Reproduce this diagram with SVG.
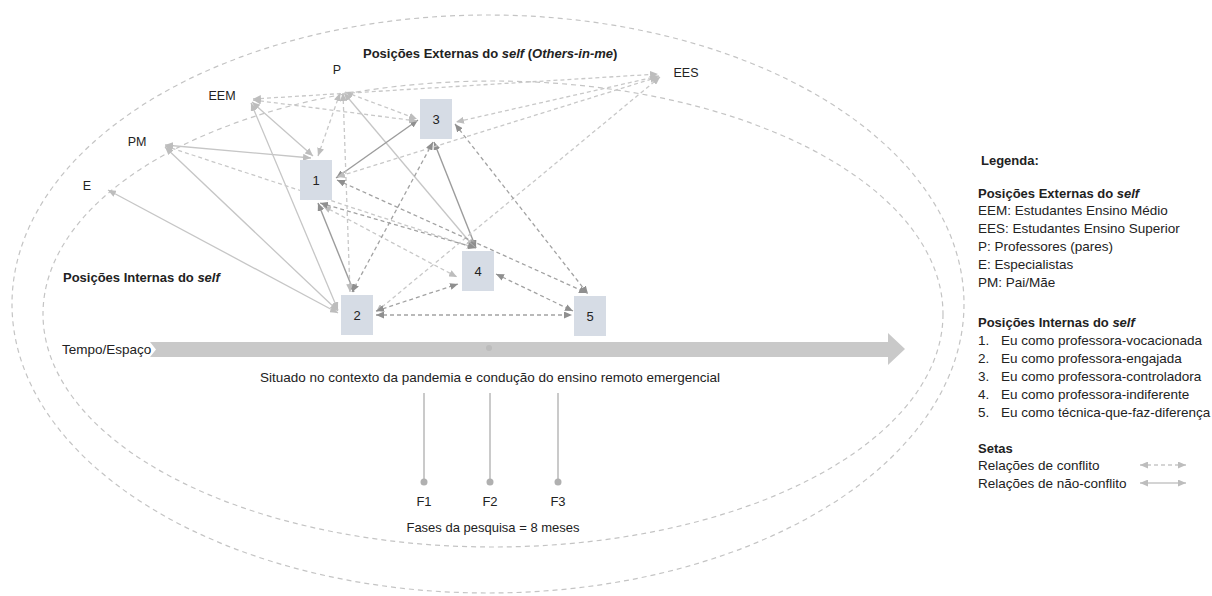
<svg xmlns="http://www.w3.org/2000/svg" width="1212" height="596" viewBox="0 0 1212 596">
<defs>
<style>
text{font-family:"Liberation Sans",Arial,sans-serif;fill:#222;}
.lbl{font-size:12.5px;text-anchor:middle;}
.num{font-size:13px;text-anchor:middle;}
.hd{font-size:13px;font-weight:bold;}
.lg{font-size:13.5px;}
.ell{fill:none;stroke:#c4c4c4;stroke-width:1.2;stroke-dasharray:5 4;}
.box{fill:#d6dce5;}
.sl{stroke:#c6c6c6;stroke-width:1.3;fill:none;marker-start:url(#ahL);marker-end:url(#ahL);}
.sd{stroke:#9c9c9c;stroke-width:1.4;fill:none;marker-start:url(#ahD);marker-end:url(#ahD);}
.dl{stroke:#c8c8c8;stroke-width:1.3;stroke-dasharray:4 3;fill:none;marker-start:url(#ahL);marker-end:url(#ahL);}
.dd{stroke:#a2a2a2;stroke-width:1.3;stroke-dasharray:4 3;fill:none;marker-start:url(#ahD);marker-end:url(#ahD);}
</style>
<marker id="ahL" markerUnits="userSpaceOnUse" markerWidth="8" markerHeight="7" refX="8" refY="3.5" orient="auto-start-reverse"><path d="M0,0 L8,3.5 L0,7 z" fill="#bdbdbd"/></marker>
<marker id="ahD" markerUnits="userSpaceOnUse" markerWidth="8" markerHeight="7" refX="8" refY="3.5" orient="auto-start-reverse"><path d="M0,0 L8,3.5 L0,7 z" fill="#8f8f8f"/></marker>
</defs>
<rect width="1212" height="596" fill="#ffffff"/>

<g id="ellipses">
<ellipse class="ell" cx="488" cy="304" rx="476" ry="289"/>
<ellipse class="ell" cx="493" cy="314" rx="450" ry="233"/>
</g>

<g id="titles">
<text x="363" y="58" class="hd">Posições Externas do <tspan font-style="italic">self</tspan> (<tspan font-style="italic">Others-in-me</tspan>)</text>
<text x="63" y="282" class="hd">Posições Internas do <tspan font-style="italic">self</tspan></text>
</g>

<g id="timeline">
<path d="M150,342 L888,342 L888,333 L905,349 L888,365 L888,357 L150,357 L156,349.5 Z" fill="#c9c9c9"/>
<circle cx="489" cy="348" r="3" fill="#bcbcbc"/>
<text x="62" y="354" class="lg">Tempo/Espaço</text>
<text x="490" y="382" class="lg" text-anchor="middle">Situado no contexto da pandemia e condução do ensino remoto emergencial</text>
<g stroke="#b8b8b8" stroke-width="1.5">
<line x1="424" y1="393" x2="424" y2="482"/>
<line x1="490" y1="393" x2="490" y2="482"/>
<line x1="558" y1="393" x2="558" y2="482"/>
</g>
<g fill="#b0b0b0">
<circle cx="424" cy="482" r="3.5"/>
<circle cx="490" cy="482" r="3.5"/>
<circle cx="558" cy="482" r="3.5"/>
</g>
<text x="424" y="506" class="num">F1</text>
<text x="490" y="506" class="num">F2</text>
<text x="558" y="506" class="num">F3</text>
<text x="493" y="532" class="num">Fases da pesquisa = 8 meses</text>
</g>

<g id="connectors">
<line class="sl" x1="252" y1="102" x2="313" y2="156"/>
<line class="sl" x1="251" y1="103" x2="338" y2="310"/>
<line class="sl" x1="165" y1="145" x2="311" y2="158"/>
<line class="sl" x1="165" y1="147" x2="338" y2="311"/>
<line class="sl" x1="108" y1="190" x2="338" y2="313"/>
<line class="sl" x1="344" y1="93" x2="474" y2="247"/>

<line class="sd" x1="318" y1="203" x2="354" y2="292"/>
<line class="sd" x1="336" y1="178" x2="418" y2="120"/>
<line class="sd" x1="434" y1="142" x2="476" y2="248"/>

<line class="dl" x1="340" y1="93" x2="318" y2="156"/>
<line class="dl" x1="343" y1="93" x2="350" y2="292"/>
<line class="dl" x1="345" y1="92" x2="417" y2="119"/>
<line class="dl" x1="253" y1="100" x2="417" y2="121"/>
<line class="dl" x1="253" y1="99" x2="658" y2="74"/>
<line class="dl" x1="659" y1="76" x2="456" y2="122"/>
<line class="dl" x1="658" y1="77" x2="337" y2="177"/>
<line class="dl" x1="660" y1="77" x2="376" y2="312"/>
<line class="dl" x1="165" y1="146" x2="475" y2="248"/>
<line class="dl" x1="323" y1="206" x2="457" y2="277"/>

<line class="dd" x1="433" y1="142" x2="352" y2="292"/>
<line class="dd" x1="455" y1="124" x2="588" y2="294"/>
<line class="dd" x1="337" y1="180" x2="587" y2="293"/>
<line class="dd" x1="320" y1="203" x2="476" y2="248"/>
<line class="dd" x1="376" y1="315" x2="572" y2="315"/>
<line class="dd" x1="376" y1="311" x2="458" y2="284"/>
<line class="dd" x1="496" y1="274" x2="573" y2="311"/>
</g>

<g id="ext-P"><text x="337" y="74" class="lbl">P</text></g>
<g id="ext-EEM"><text x="222" y="100" class="lbl">EEM</text></g>
<g id="ext-PM"><text x="137" y="146" class="lbl">PM</text></g>
<g id="ext-E"><text x="87" y="190" class="lbl">E</text></g>
<g id="ext-EES"><text x="686" y="77" class="lbl">EES</text></g>

<g id="node1"><rect class="box" x="300" y="160" width="32" height="40"/><text x="316" y="185" class="num">1</text></g>
<g id="node2"><rect class="box" x="341" y="295" width="32" height="40"/><text x="357" y="320" class="num">2</text></g>
<g id="node3"><rect class="box" x="420" y="99" width="32" height="40"/><text x="436" y="124" class="num">3</text></g>
<g id="node4"><rect class="box" x="462" y="251" width="32" height="40"/><text x="478" y="276" class="num">4</text></g>
<g id="node5"><rect class="box" x="574" y="296" width="32" height="40"/><text x="590" y="321" class="num">5</text></g>

<g id="legend">
<text x="981" y="165" class="hd">Legenda:</text>
<text x="978" y="198" class="hd">Posições Externas do <tspan font-style="italic">self</tspan></text>
<text x="978" y="215" class="lg">EEM: Estudantes Ensino Médio</text>
<text x="978" y="233" class="lg">EES: Estudantes Ensino Superior</text>
<text x="978" y="251" class="lg">P: Professores (pares)</text>
<text x="978" y="269" class="lg">E: Especialistas</text>
<text x="978" y="287" class="lg">PM: Pai/Mãe</text>
<text x="978" y="327" class="hd">Posições Internas do <tspan font-style="italic">self</tspan></text>
<text x="978" y="345" class="lg">1.</text><text x="1001" y="345" class="lg">Eu como professora-vocacionada</text>
<text x="978" y="363" class="lg">2.</text><text x="1001" y="363" class="lg">Eu como professora-engajada</text>
<text x="978" y="381" class="lg">3.</text><text x="1001" y="381" class="lg">Eu como professora-controladora</text>
<text x="978" y="399" class="lg">4.</text><text x="1001" y="399" class="lg">Eu como professora-indiferente</text>
<text x="978" y="417" class="lg">5.</text><text x="1001" y="417" class="lg">Eu como técnica-que-faz-diferença</text>
<text x="978" y="453" class="hd">Setas</text>
<text x="978" y="470" class="lg">Relações de conflito</text>
<text x="978" y="488" class="lg">Relações de não-conflito</text>
<line class="dl" x1="1140" y1="465" x2="1186" y2="465"/>
<line class="sl" x1="1140" y1="483" x2="1186" y2="483"/>
</g>
</svg>
